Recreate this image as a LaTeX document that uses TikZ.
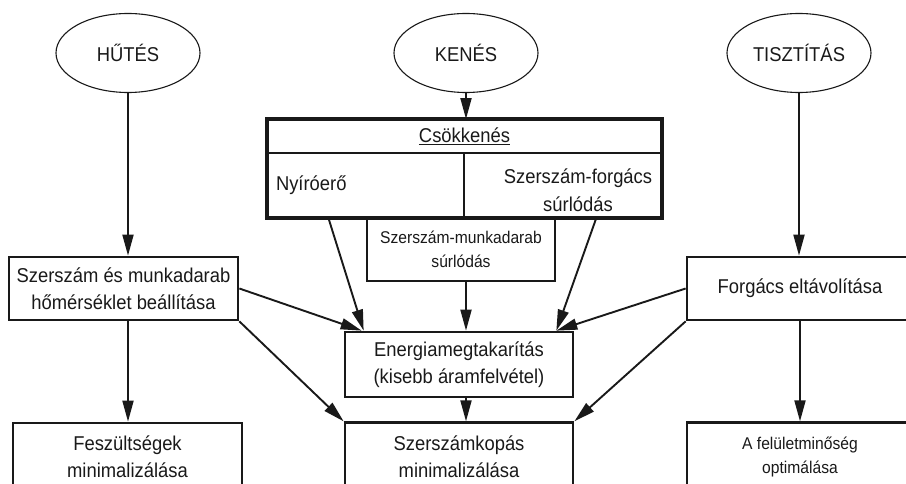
\documentclass[tikz,border=0pt]{standalone}
\usepackage{fontspec}
\setmainfont[FakeStretch=0.92]{Liberation Sans}
\usepackage{xcolor}
\usepackage{tikz}
\usetikzlibrary{shapes.geometric,arrows.meta,positioning,calc}
\definecolor{inkgray}{RGB}{25, 25, 25}

\begin{document}
\begin{tikzpicture}[
    x=1pt, y=-1pt, color=inkgray,
    goal/.style={ellipse, draw=inkgray, line width=1.1pt, minimum width=144pt, minimum height=79pt, inner sep=0pt, font=\fontsize{20}{24}\selectfont},
    box/.style={rectangle, draw=inkgray, line width=2.7pt, inner sep=0pt, align=center, font=\fontsize{20}{27}\selectfont},
    smallbox/.style={box, font=\fontsize{17}{24}\selectfont},
    cell/.style={rectangle, draw=inkgray, line width=1.9pt, inner sep=0pt, font=\fontsize{20}{28}\selectfont},
    arrow/.style={-{Triangle[length=21pt, width=11pt]}, line width=1.9pt, inkgray}
]
    \useasboundingbox (0,0) rectangle (906,484);
    \clip (0,0) rectangle (906,484);

    \node[goal] (hutes) at (128,53) {HŰTÉS};
    \node[goal] (kenes) at (466,53) {KENÉS};
    \node[goal] (tiszt) at (799,53) {TISZTÍTÁS};

    \node[cell, minimum width=393pt, minimum height=33pt] (cstitle) at (464.5,136.5) {\underline{Csökkenés}};
    \node[cell, minimum width=196pt, minimum height=64pt, text width=180pt, align=left] (nyiro) at (366,185) {Nyíróerő};
    \node[cell, minimum width=197pt, minimum height=64pt] (szfor) at (562.5,185) {};
    \node[inner sep=0pt, align=center, font=\fontsize{20}{28}\selectfont] (szfortxt) at (578,190) {Szerszám-forgács\\súrlódás};
    \node[smallbox, minimum width=188pt, minimum height=64pt] (szmunk) at (461,249) {Szerszám-munkadarab\\súrlódás};
    \draw[line width=4pt] (cstitle.north west) rectangle (szfor.south east);

    \node[box, minimum width=229pt, minimum height=63pt] (szmh) at (123.5,288.5) {Szerszám és munkadarab\\hőmérséklet beállítása};
    \node[box, minimum width=226pt, minimum height=63pt] (forg) at (800,288.5) {Forgács eltávolítása};
    \node[box, minimum width=228pt, minimum height=65pt] (energ) at (459,364.5) {Energiamegtakarítás\\(kisebb áramfelvétel)};

    \node[box, minimum width=229pt, minimum height=68pt] (fesz) at (127.5,457) {Feszültségek\\minimalizálása};
    \node[box, minimum width=228pt, minimum height=68pt, below=23pt of energ] (kopas) {Szerszámkopás\\minimalizálása};
    \node[smallbox, minimum width=226pt, minimum height=68pt, below=100pt of forg] (felulet) {A felületminőség\\optimálása};

    \draw[arrow] (hutes) -- (hutes |- szmh.north);
    \draw[arrow] (kenes) -- (kenes |- cstitle.north);
    \draw[arrow] (tiszt) -- (tiszt |- forg.north);

    \draw[arrow] ($(nyiro.south west)!0.31!(nyiro.south east)$) -- ([xshift=20pt]energ.north west);
    \draw[arrow] ($(szfor.south west)!0.67!(szfor.south east)$) -- ([xshift=-18pt]energ.north east);
    \draw[arrow] (kenes |- szmunk.south) -- (kenes |- energ.north);

    \draw[arrow] (szmh.east) -- ([xshift=18pt]energ.north west);
    \draw[arrow] (szmh.south east) -- (kopas.north west);
    \draw[arrow] (hutes |- szmh.south) -- (hutes |- fesz.north);

    \draw[arrow] (forg.west) -- ([xshift=-18pt]energ.north east);
    \draw[arrow] (forg.south west) -- (kopas.north east);
    \draw[arrow] (forg) -- (felulet);

    \draw[arrow] (kenes |- energ.south) -- (kenes |- kopas.north);
\end{tikzpicture}
\end{document}
